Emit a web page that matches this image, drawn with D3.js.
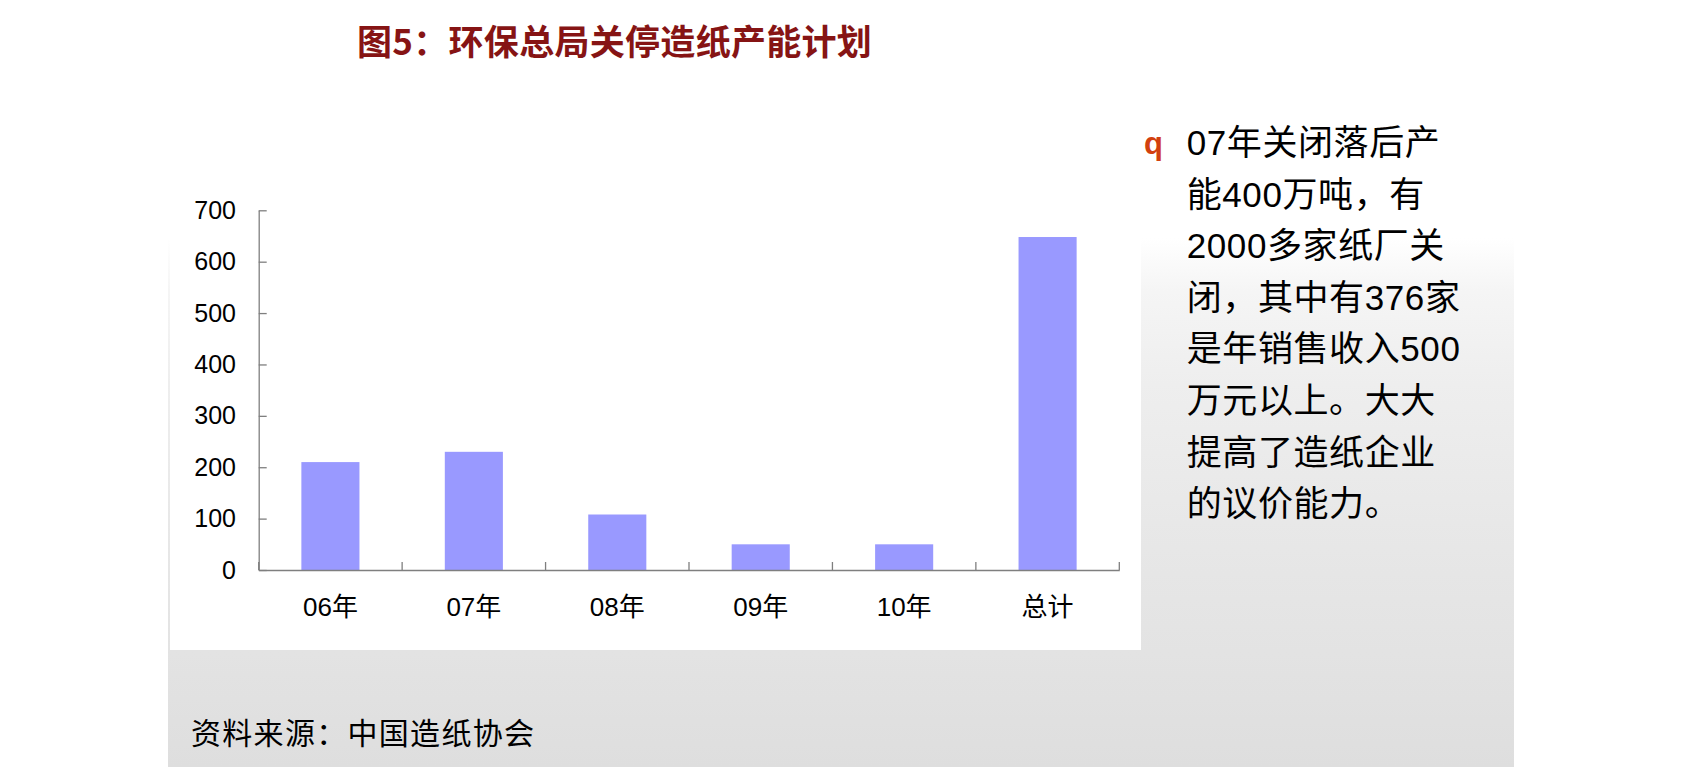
<!DOCTYPE html>
<html>
<head>
<meta charset="utf-8">
<script src="https://cdn.jsdelivr.net/npm/d3@7"></script>
<style>
  html, body { margin: 0; padding: 0; background: #ffffff; }
  svg { display: block; }
</style>
</head>
<body>
<svg id="chart" width="1682" height="767"></svg>
<script>
// ---- data ----
const categories = ["06年", "07年", "08年", "09年", "10年", "总计"];
const values = [210, 230, 108, 50, 50, 648];
const yTicks = [0, 100, 200, 300, 400, 500, 600, 700];
const titleText = "图5：环保总局关停造纸产能计划";
const noteLines = [
  "07年关闭落后产",
  "能400万吨，有",
  "2000多家纸厂关",
  "闭，其中有376家",
  "是年销售收入500",
  "万元以上。大大",
  "提高了造纸企业",
  "的议价能力。"
];
const sourceText = "资料来源：中国造纸协会";

// ---- drawing ----
const svg = d3.select("#chart");
const fontLatin = "'Liberation Sans', Arial, 'Noto Sans CJK SC', sans-serif";
const fontCJK = "'Noto Sans CJK SC', sans-serif";

// background gradient (slide background)
const defs = svg.append("defs");
const grad = defs.append("linearGradient").attr("id", "bg").attr("x1", 0).attr("y1", 0).attr("x2", 0).attr("y2", 1);
[[0, "#ffffff"], [0.31, "#ffffff"], [0.38, "#f5f5f5"], [0.5, "#eeeeee"], [0.68, "#e8e8e8"], [0.85, "#e3e3e3"], [1, "#dedede"]]
  .forEach(([o, c]) => grad.append("stop").attr("offset", o).attr("stop-color", c));
svg.append("rect").attr("x", 168).attr("y", 0).attr("width", 1346).attr("height", 767).attr("fill", "url(#bg)");

// white chart panel
svg.append("rect").attr("x", 170).attr("y", 190).attr("width", 971).attr("height", 460).attr("fill", "#ffffff");

// title
svg.append("text")
  .attr("x", 357).attr("y", 55)
  .attr("font-family", fontCJK).attr("font-weight", "bold").attr("font-size", 35)
  .attr("letter-spacing", 0.3)
  .attr("fill", "#861414")
  .text(titleText);

// scales
const x = d3.scaleBand().domain(categories).range([258.7, 1119.3]).paddingInner(0.595).paddingOuter(0.2975);
const y = d3.scaleLinear().domain([0, 700]).range([570, 210.3]);

const axisColor = "#7f7f7f";

// y axis
const gy = svg.append("g").attr("transform", `translate(${x.range()[0]},0)`)
  .call(d3.axisLeft(y).tickValues(yTicks).tickSizeInner(-8).tickSizeOuter(0).tickPadding(22.7).tickFormat(d3.format("d")));
gy.select(".domain").attr("stroke", axisColor).attr("stroke-width", 1.3);
gy.selectAll(".tick line").attr("stroke", axisColor).attr("stroke-width", 1.3);
gy.selectAll(".tick text").attr("font-family", fontLatin).attr("font-size", 25).attr("fill", "#000");

// bars
svg.append("g").selectAll("rect").data(values).join("rect")
  .attr("x", (d, i) => x(categories[i]))
  .attr("width", x.bandwidth())
  .attr("y", d => y(d))
  .attr("height", d => y(0) - y(d))
  .attr("fill", "#9999ff");

// x axis
const gx = svg.append("g").attr("transform", `translate(0,${y(0)})`)
  .call(d3.axisBottom(x).tickSize(0).tickPadding(28));
gx.select(".domain").attr("stroke", axisColor).attr("stroke-width", 1.3);
gx.selectAll(".tick text").attr("font-family", fontLatin).attr("font-size", 26).attr("fill", "#000");
// boundary ticks
const bounds = d3.range(categories.length + 1).map(i => x.range()[0] + i * x.step());
gx.selectAll(".btick").data(bounds).join("line").attr("class", "btick")
  .attr("x1", d => d).attr("x2", d => d).attr("y1", 0).attr("y2", -8)
  .attr("stroke", axisColor).attr("stroke-width", 1.3);

// bullet and notes
svg.append("text").attr("x", 1144).attr("y", 154)
  .attr("font-family", fontLatin).attr("font-weight", "bold").attr("font-size", 31)
  .attr("fill", "#d2400f").text("q");

svg.append("g").selectAll("text").data(noteLines).join("text")
  .attr("x", 1186.7)
  .attr("y", (d, i) => 155 + i * 51.6)
  .attr("font-family", fontLatin).attr("font-size", 35).attr("fill", "#000")
  .attr("letter-spacing", 0.6)
  .text(d => d);

// source
svg.append("text").attr("x", 191).attr("y", 744)
  .attr("font-family", fontCJK).attr("font-size", 30).attr("fill", "#000")
  .attr("letter-spacing", 1.3)
  .text(sourceText);
</script>
</body>
</html>
